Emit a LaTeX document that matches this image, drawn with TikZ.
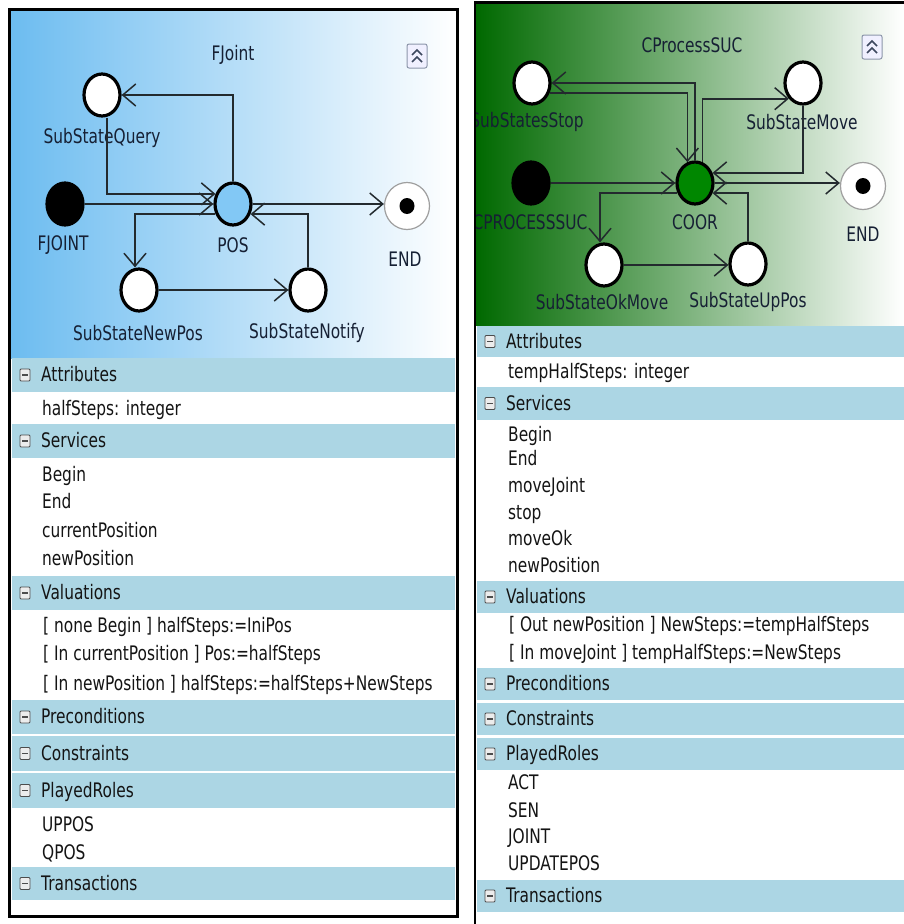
\documentclass[tikz,border=0pt]{standalone}
\usepackage{fontspec}
\setmainfont[FakeStretch=0.77]{DejaVu Sans}
\usetikzlibrary{arrows.meta,shapes.geometric}

\definecolor{skyL}{RGB}{108,188,240}
\definecolor{grnL}{RGB}{0,105,0}
\definecolor{band}{RGB}{172,214,228}
\definecolor{ink}{RGB}{20,20,20}
\definecolor{lbl}{RGB}{22,32,52}
\definecolor{wire}{RGB}{35,42,46}
\definecolor{posfill}{RGB}{130,200,245}
\definecolor{coorfill}{RGB}{0,135,0}
\definecolor{iconedge}{RGB}{140,150,170}
\definecolor{iconmark}{RGB}{60,72,95}

\newcommand\uifont{\fontsize{20}{24}\selectfont}

% header band of a property section: x0, x1, ytop, ybottom, name, text
\newcommand\bandrow[6]{%
  \fill[band] (#1,#3) rectangle (#2,#4);
  \draw[fill=gray!15, draw=gray!60!black, line width=0.9pt, rounded corners=1pt]
    ({#1+13-5},{(#3+#4)/2-6}) rectangle ++(10,12);
  \draw[line width=1.8pt, draw=black!70] ({#1+13-3},{(#3+#4)/2}) -- ++(6,0);
  \node[hdr] (#5) at ({#1+29},{(#3+#4)/2}) {#6};
}

% collapse button with a double chevron
\newcommand\collapsebtn[2]{%
  \draw[fill=white!94!blue, draw=iconedge, line width=1pt, rounded corners=2pt]
    ({#1-10},{#2-12}) rectangle ++(20,24);
  \draw[draw=iconmark, line width=1.7pt]
    ({#1-5},{#2-1}) -- ({#1},{#2-6}) -- ({#1+5},{#2-1})
    ({#1-5},{#2+6}) -- ({#1},{#2+1}) -- ({#1+5},{#2+6});
}

\tikzset{
  state/.style={ellipse, draw=black, line width=3.2pt, fill=white,
    minimum width=36pt, minimum height=42pt, inner sep=0pt},
  initstate/.style={state, fill=black},
  finalstate/.style={ellipse, draw=gray!75, line width=1.2pt, fill=white,
    minimum width=45pt, minimum height=47pt, inner sep=0pt},
  enddot/.style={ellipse, fill=black, minimum width=15pt, minimum height=16pt, inner sep=0pt},
  tr/.style={draw=wire, line width=1.8pt,
    -{Straight Barb[length=13pt,width=22pt,line width=1.5pt]}},
  slabel/.style={font=\uifont, text=lbl, inner sep=0pt, yshift=-2pt},
  title/.style={font=\uifont, text=lbl, inner sep=0pt},
  hdr/.style={anchor=mid west, font=\uifont, text=ink, inner sep=0pt, yshift=-4pt},
  item/.style={anchor=mid west, font=\uifont, text=ink, inner sep=0pt, yshift=-4pt},
}

\begin{document}
\begin{tikzpicture}[x=1pt, y=-1pt]
\useasboundingbox (0,0) rectangle (904,924);
\fill[white] (0,0) rectangle (904,924);

% ---------------- FJoint ----------------
\shade[left color=skyL, right color=white] (10,10) rectangle (456,358);
\node[title] (fjTitle) at (233,55) {FJoint};
\collapsebtn{417}{56}

\node[state] (SQ) at (102,95) {};
\node[initstate] (FJ) at (65,204) {};
\node[state, fill=posfill] (POS) at (233,204) {};
\node[finalstate] (END1) at (407,206) {};
\node[enddot] (END1dot) at (END1.center) {};
\node[state] (NP) at (139,290) {};
\node[state] (SN) at (308,290) {};

\node[slabel] (SQl) at (102,136) {SubStateQuery};
\node[slabel] (FJl) at (63,243) {FJOINT};
\node[slabel] (POSl) at (233,243) {POS};
\node[slabel] (END1l) at (405,257) {END};
\node[slabel] (NPl) at (138,331) {SubStateNewPos};
\node[slabel] (SNl) at (307,331) {SubStateNotify};

\draw[tr] (POS.north) |- (SQ.east);
\draw[tr] ([xshift=5pt]SQ.south) |- (POS.150);
\draw[tr] (FJ.east) -- (POS.west);
\draw[tr] (POS.210) -| ([xshift=-4pt]NP.north);
\draw[tr] (NP.east) -- (SN.west);
\draw[tr] (SN.north) |- (POS.330);
\draw[tr] (POS.east) -- (POS.east -| END1.west);

% property sections
\bandrow{12}{455}{358}{392}{fa}{Attributes}
\node[item] (fa1) at (42,409) {halfSteps: integer};
\bandrow{12}{455}{424}{458}{fs}{Services}
\foreach \y/\t [count=\i] in {475/Begin, 502/End, 531/currentPosition, 559/newPosition}
  \node[item] (fs\i) at (42,\y) {\t};
\bandrow{12}{455}{576}{610}{fv}{Valuations}
\node[item] (fv1) at (43,626) {[ none Begin ] halfSteps:=IniPos};
\node[item] (fv2) at (43,654) {[ In currentPosition ] Pos:=halfSteps};
\node[item] (fv3) at (43,684) {[ In newPosition ] halfSteps:=halfSteps+NewSteps};
\bandrow{12}{455}{700}{734}{fp}{Preconditions}
\bandrow{12}{455}{736}{771}{fc}{Constraints}
\bandrow{12}{455}{773}{808}{fr}{PlayedRoles}
\node[item] (fr1) at (42,825) {UPPOS};
\node[item] (fr2) at (42,853) {QPOS};
\bandrow{12}{455}{867}{900}{ft}{Transactions}

\draw[line width=3pt] (9.5,9.5) rectangle (457.5,916.5);

% ---------------- CProcessSUC ----------------
\begin{scope}
\clip (476,3) rectangle (904,924);
\shade[left color=grnL, right color=white] (476,3) rectangle (904,325);
\node[title] (cpTitle) at (692,45) {CProcessSUC};
\collapsebtn{872}{47}

\node[state] (SS) at (532,83) {};
\node[initstate] (CP) at (531,183) {};
\node[state, fill=coorfill] (CO) at (695,183) {};
\node[state] (SM) at (803,83) {};
\node[finalstate] (END2) at (863,186) {};
\node[enddot] (END2dot) at (END2.center) {};
\node[state] (OK) at (604,265) {};
\node[state] (UP) at (748,264) {};

\node[slabel] (SSl) at (527,120) {SubStatesStop};
\node[slabel] (CPl) at (530,220) {CPROCESSSUC};
\node[slabel] (COl) at (695,220) {COOR};
\node[slabel] (SMl) at (802,120) {SubStateMove};
\node[slabel] (END2l) at (863,232) {END};
\node[slabel] (OKl) at (602,300) {SubStateOkMove};
\node[slabel] (UPl) at (748,300) {SubStateUpPos};

\draw[tr] (CO.north) |- (SS.east);
\draw[tr] (SS.-30) -| (CO.110);
\draw[tr] (CO.70) |- (SM.228);
\draw[tr] (SM.south) |- (CO.30);
\draw[tr] (CP.east) -- (CO.west);
\draw[tr] (CO.210) -| ([xshift=-4pt]OK.north);
\draw[tr] (OK.east) -- (OK.east -| UP.west);
\draw[tr] (UP.north) |- (CO.330);
\draw[tr] (CO.east) -- (CO.east -| END2.west);

\bandrow{477}{904}{326}{357}{ca}{Attributes}
\node[item] (ca1) at (508,372) {tempHalfSteps: integer};
\bandrow{477}{904}{387}{420}{cs}{Services}
\foreach \y/\t [count=\i] in {435/Begin, 459/End, 486/moveJoint, 513/stop, 539/moveOk, 566/newPosition}
  \node[item] (cs\i) at (508,\y) {\t};
\bandrow{477}{904}{581}{613}{cv}{Valuations}
\node[item] (cv1) at (509,625) {[ Out newPosition ] NewSteps:=tempHalfSteps};
\node[item] (cv2) at (509,653) {[ In moveJoint ] tempHalfSteps:=NewSteps};
\bandrow{477}{904}{668}{700}{cp}{Preconditions}
\bandrow{477}{904}{703}{735}{cc}{Constraints}
\bandrow{477}{904}{738}{770}{cr}{PlayedRoles}
\foreach \y/\t [count=\i] in {783/ACT, 811/SEN, 837/JOINT, 864/UPDATEPOS}
  \node[item] (cr\i) at (508,\y) {\t};
\bandrow{477}{904}{880}{912}{ct}{Transactions}
\end{scope}

\draw[line width=2.5pt] (475,924) -- (475,2.25) -- (904,2.25);
\end{tikzpicture}
\end{document}
